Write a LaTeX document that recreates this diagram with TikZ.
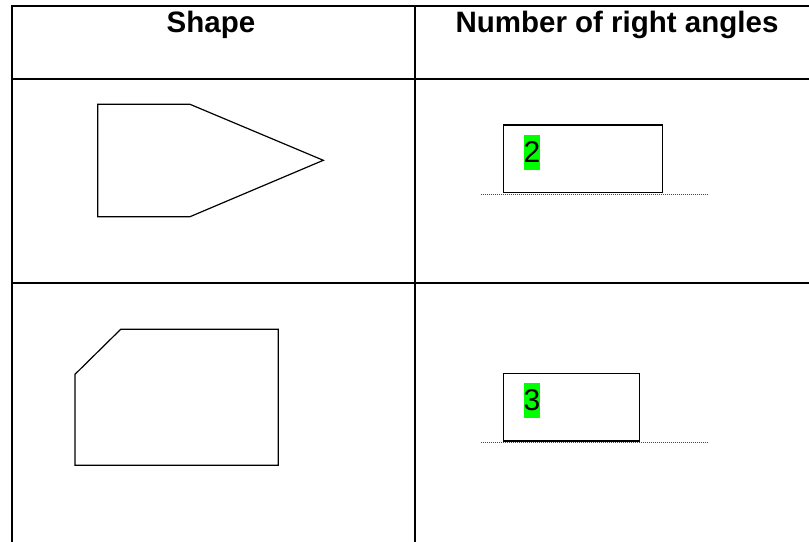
\documentclass[tikz,border=0pt]{standalone}
\usepackage{fontspec}
\setmainfont{Liberation Sans}
\definecolor{hl}{HTML}{00FF00}
\tikzset{
  grid/.style={line width=2bp, black},
  shp/.style={line width=1.2bp, black, line join=miter},
  ansbox/.style={line width=1.5bp, black},
  dotline/.style={line width=1bp, black!70, dash pattern=on 1bp off 1bp},
  head/.style={font=\fontsize{29.5bp}{33bp}\selectfont\bfseries, inner sep=0pt, anchor=base},
  digit/.style={font=\fontsize{30bp}{34bp}\selectfont, fill=hl, inner sep=0pt, text height=27.7bp, text depth=7.3bp, anchor=base west}
}
\begin{document}
\begin{tikzpicture}[x=1bp,y=-1bp]
\useasboundingbox (0,0) rectangle (809,542);
% table grid
\draw[grid] (12,542) -- (12,6) -- (809,6);
\draw[grid] (415,6) -- (415,542);
\draw[grid] (12,79) -- (809,79);
\draw[grid] (12,283.3) -- (809,283.3);
% headers
\node[head] (h1) at (211,32.5) {Shape};
\node[head] (h2) at (617,32.5) {Number of right angles};
% shape 1
\draw[shp] (97.7,104.3) -- (190,104.3) -- (323.3,160.3) -- (190,216.7) -- (97.7,216.7) -- cycle;
% shape 2
\draw[shp] (120.7,329.3) -- (278.3,329.3) -- (278.3,465.3) -- (75,465.3) -- (75,374.3) -- cycle;
% answer 1
\draw[dotline] (480.7,194.3) -- (708.3,194.3);
\draw[ansbox] (503.7,125) rectangle (662.3,192.7);
\node[digit] (a1) at (523.3,162.7) {2};
% answer 2
\draw[dotline] (480.7,442.7) -- (708.3,442.7);
\draw[ansbox] (503.7,373.7) rectangle (639.3,441);
\node[digit] (a2) at (523.3,410.7) {3};
\end{tikzpicture}
\end{document}
